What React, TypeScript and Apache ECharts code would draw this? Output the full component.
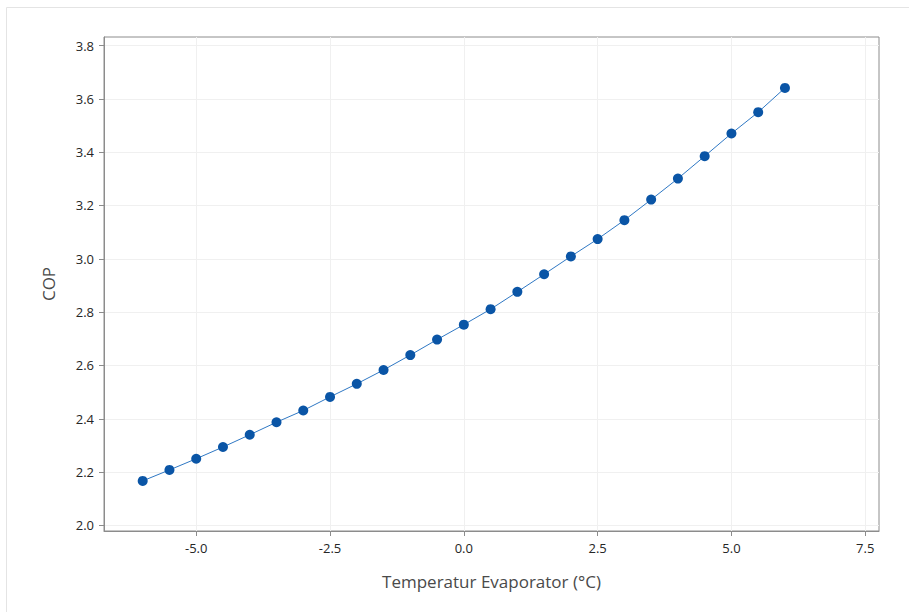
import React, { useEffect, useRef } from "react";
import * as echarts from "echarts";

const temperatures = [-6, -5.5, -5, -4.5, -4, -3.5, -3, -2.5, -2, -1.5, -1, -0.5, 0, 0.5, 1, 1.5, 2, 2.5, 3, 3.5, 4, 4.5, 5, 5.5, 6];
const copValues = [2.167, 2.208, 2.25, 2.294, 2.34, 2.387, 2.431, 2.482, 2.531, 2.583, 2.639, 2.697, 2.753, 2.811, 2.876, 2.942, 3.009, 3.074, 3.145, 3.222, 3.301, 3.385, 3.47, 3.55, 3.641];
const xTicks = [-5, -2.5, 0, 2.5, 5, 7.5];
const yTicks = [2.0, 2.2, 2.4, 2.6, 2.8, 3.0, 3.2, 3.4, 3.6, 3.8];

const FONT = "'Open Sans', 'Noto Sans', sans-serif";

export default function App() {
  const ref = useRef<HTMLDivElement>(null);
  useEffect(() => {
    if (!ref.current) return;
    const chart = echarts.init(ref.current, undefined, { renderer: "svg" });
    const data = temperatures.map((t, i) => [t, copValues[i]]);
    chart.setOption({
      animation: false,
      backgroundColor: "#ffffff",
      graphic: [
        {
          type: "rect",
          shape: { x: 6.5, y: 7.5, width: 1000, height: 1000 },
          style: { fill: "none", stroke: "#e4e4e4", lineWidth: 1 },
          silent: true,
        },
      ],
      grid: {
        left: 104,
        right: 30,
        top: 37,
        bottom: 81,
        show: true,
        borderColor: "#8c8c8c",
        borderWidth: 1,
        backgroundColor: "transparent",
      },
      xAxis: {
        type: "value",
        min: -6.723,
        max: 7.757,
        name: "Temperatur Evaporator (°C)",
        nameLocation: "middle",
        nameGap: 42,
        nameTextStyle: { fontFamily: FONT, fontSize: 17, color: "#4a4a4a" },
        axisLine: { show: true, onZero: false, lineStyle: { color: "#8c8c8c", width: 1 } },
        axisTick: { show: true, inside: false, length: 5, lineStyle: { color: "#8c8c8c" }, customValues: xTicks },
        axisLabel: {
          customValues: xTicks,
          formatter: (v: number) => v.toFixed(1),
          fontFamily: FONT,
          fontSize: 13,
          color: "#262626",
          margin: 10,
        },
        splitLine: { show: true, lineStyle: { color: "#f0f0f0", width: 1 } },
      },
      yAxis: {
        type: "value",
        min: 1.979,
        max: 3.832,
        name: "COP",
        nameLocation: "middle",
        nameGap: 47,
        nameRotate: 90,
        nameTextStyle: { fontFamily: FONT, fontSize: 17, color: "#4a4a4a" },
        axisLine: { show: true, onZero: false, lineStyle: { color: "#8c8c8c", width: 1 } },
        axisTick: { show: true, inside: false, length: 5, lineStyle: { color: "#8c8c8c" }, customValues: yTicks },
        axisLabel: {
          customValues: yTicks,
          formatter: (v: number) => v.toFixed(1),
          fontFamily: FONT,
          fontSize: 13,
          color: "#262626",
          margin: 10,
        },
        splitLine: { show: true, lineStyle: { color: "#f0f0f0", width: 1 } },
      },
      series: [
        {
          type: "line",
          data,
          symbol: "circle",
          symbolSize: 10,
          showSymbol: true,
          lineStyle: { color: "#2f78c4", width: 1 },
          itemStyle: { color: "#0a55a6", borderWidth: 0 },
          z: 5,
        },
      ],
    });
    return () => chart.dispose();
  }, []);
  return (
    <div
      ref={ref}
      style={{ position: "fixed", left: 0, top: 0, width: 909, height: 612, background: "#fff" }}
    />
  );
}
